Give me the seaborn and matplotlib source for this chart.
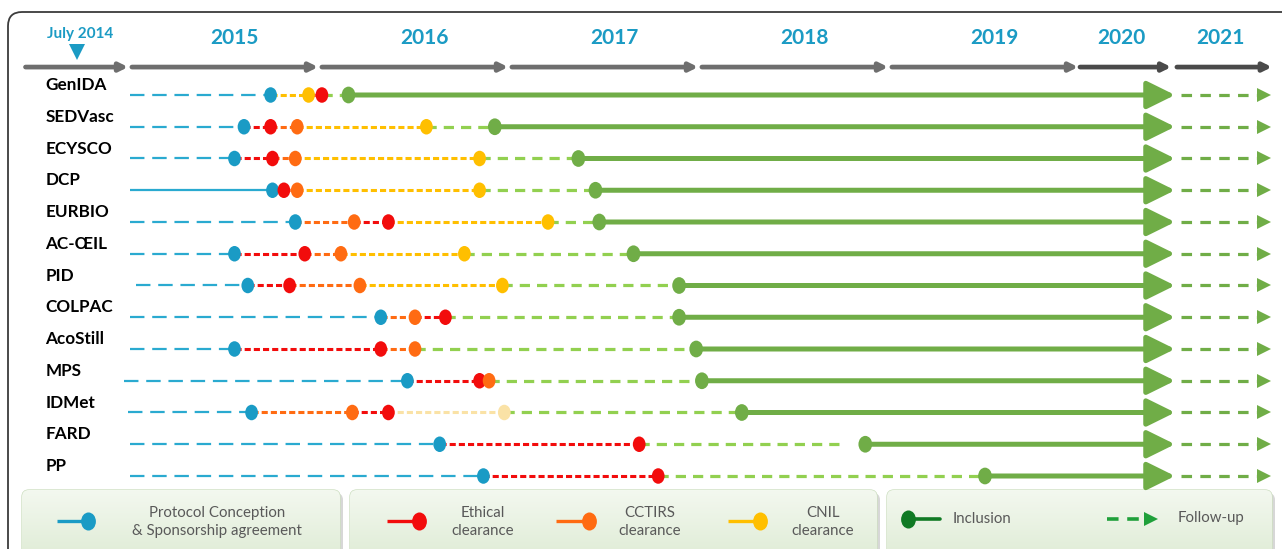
import numpy as np
import pandas as pd
import matplotlib
matplotlib.use("Agg")
import matplotlib.pyplot as plt
import seaborn as sns
from matplotlib.patches import FancyBboxPatch
from matplotlib.path import Path
from matplotlib.transforms import Affine2D
from matplotlib.colors import LinearSegmentedColormap

nan = np.nan

# studies, top to bottom
studies = ['GenIDA', 'SEDVasc', 'ECYSCO', 'DCP', 'EURBIO', 'AC-ŒIL', 'PID',
           'COLPAC', 'AcoStill', 'MPS', 'IDMet', 'FARD', 'PP']
# dates as decimal years (2020 and 2021 are drawn half width at the end)
line_start = [2015.0, 2015.0, 2015.0, 2015.0, 2015.0, 2015.0, 2015.03,
              2015.0, 2015.0, 2014.97, 2014.99, 2015.0, 2015.0]
protocol = [2015.74, 2015.60, 2015.55, 2015.75, 2015.87, 2015.55, 2015.62,
            2016.32, 2015.55, 2016.46, 2015.64, 2016.63, 2016.86]
ethics = [2016.01, 2015.74, 2015.75, 2015.81, 2016.36, 2015.92, 2015.84,
          2016.66, 2016.32, 2016.84, 2016.36, 2017.68, 2017.78]
cctirs = [nan, 2015.88, 2015.87, 2015.88, 2016.18, 2016.11, 2016.21,
          2016.50, 2016.50, 2016.89, 2016.17, nan, nan]
cnil = [2015.94, 2016.56, 2016.84, 2016.84, 2017.20, 2016.76, 2016.96,
        nan, nan, nan, 2016.97, nan, nan]
inclusion = [2016.15, 2016.92, 2017.36, 2017.45, 2017.47, 2017.65, 2017.89,
             2017.89, 2017.98, 2018.01, 2018.22, 2018.87, 2019.50]
wait_end = [nan, nan, nan, nan, nan, nan, nan, nan, nan, nan, nan, 2018.76, nan]
protocol_solid = ['DCP']
cnil_pending = ['IDMet']
inclusion_end = 2020.5
followup_end = 2021.0

periods = ['July 2014', '2015', '2016', '2017', '2018', '2019', '2020', '2021']
period_start = [2014.45, 2015.01, 2016.01, 2017.01, 2018.01, 2019.01, 2020.0, 2020.51]
period_end = [2014.99, 2015.99, 2016.99, 2017.99, 2018.99, 2019.99, 2020.48, 2021.01]

dot_cols = {'protocol': '#1a9bc5', 'ethics': '#f20c0c', 'cctirs': '#ff6b12',
            'cnil': '#ffbf00', 'cnil_pending': '#fae2a6', 'inclusion': '#70ad47'}
line_cols = {'protocol': '#2aaad0', 'ethics': '#f20c0c', 'cctirs': '#ff6b12',
             'cnil': '#ffbf00', 'cnil_pending': '#fae2a6', 'inclusion': '#92d050'}
green = '#70ad47'
blue_txt = '#1b9bc4'
grey_txt = '#595959'

sns.set_theme(style='white')
plt.rcParams['font.family'] = ['Lato', 'DejaVu Sans']

# long table of events
rows = []
for i, s in enumerate(studies):
    for stage, vals in [('protocol', protocol), ('ethics', ethics), ('cctirs', cctirs),
                        ('cnil', cnil), ('inclusion', inclusion)]:
        if not np.isnan(vals[i]):
            st = stage
            if stage == 'cnil' and s in cnil_pending:
                st = 'cnil_pending'
            rows.append({'study': s, 'row': i, 'date': vals[i], 'stage': st})
events = pd.DataFrame(rows)

W, H = 1282, 549
fig = plt.figure(figsize=(W / 100, H / 100), dpi=100)
deco = fig.add_axes([0, 0, 1, 1], zorder=0)
ax = fig.add_axes([0, 0, 1, 1], zorder=1)
ax.patch.set_alpha(0)

# outer frame
deco.add_patch(FancyBboxPatch((8, 12), 1320, 600, boxstyle='round,pad=0,rounding_size=14',
                              fc='white', ec='#3c3c3c', lw=1.3))

ell = Path.unit_circle().transformed(Affine2D().scale(0.82, 1.0))

# connecting segments
for i, s in enumerate(studies):
    ev = events[events.row == i].sort_values('date')
    prev = line_start[i]
    for _, e in ev.iterrows():
        st = e.stage
        x_end = e.date
        if st == 'protocol':
            ls = '-' if s in protocol_solid else (0, (6.5, 3.5))
            lw = 1.6
        elif st == 'inclusion':
            ls = (0, (3.2, 2.2))
            lw = 2.3
            if not np.isnan(wait_end[i]):
                x_end = wait_end[i]
        else:
            ls = (0, (2.0, 1.0))
            lw = 2.2
        ax.plot([prev, x_end], [i, i], color=line_cols[st], ls=ls, lw=lw,
                solid_capstyle='butt', dash_capstyle='butt', zorder=2)
        prev = e.date
    # inclusion -> end of 2020
    ax.annotate('', xy=(inclusion_end, i), xytext=(inclusion[i], i),
                arrowprops=dict(arrowstyle='-|>,head_length=0.85,head_width=0.42',
                                mutation_scale=20, lw=3.6, color=green,
                                shrinkA=0, shrinkB=0), zorder=3)
    # follow-up
    ax.plot([inclusion_end + 0.03, followup_end - 0.06], [i, i], color=green,
            ls=(0, (3.3, 2.6)), lw=2.3, dash_capstyle='butt', zorder=2)
    ax.plot([followup_end - 0.03], [i], marker='>', ms=9.5, color=green, mew=0, zorder=3)

clear = events[events.stage != 'inclusion']
sns.scatterplot(data=clear, x='date', y='row', hue='stage', palette=dot_cols,
                marker=ell, s=125, linewidth=0, legend=False, ax=ax, zorder=5)
sns.scatterplot(data=events[events.stage == 'inclusion'], x='date', y='row', hue='stage',
                palette=dot_cols, marker=ell, s=145, linewidth=0, legend=False,
                ax=ax, zorder=5)

# study labels
for i, s in enumerate(studies):
    ax.text(2014.555, i - 0.31, s, ha='left', va='center', fontsize=12.3,
            fontweight='bold', color='black')

# header
bar_y = -0.88
for lab, a, b in zip(periods, period_start, period_end):
    col = '#4a4a4a' if lab in ('2020', '2021') else '#6e6e6e'
    ax.annotate('', xy=(b, bar_y), xytext=(a, bar_y),
                arrowprops=dict(arrowstyle='-|>,head_length=0.6,head_width=0.3',
                                mutation_scale=8, lw=3.4, color=col,
                                shrinkA=0, shrinkB=0))
    mid = (a + b) / 2
    if lab == 'July 2014':
        ax.text(mid + 0.02, -1.93, lab, ha='center', va='center', fontsize=11,
                fontweight='bold', color=blue_txt)
        ax.plot([mid], [-1.36], marker='v', ms=11, color=blue_txt, mew=0)
    else:
        shift = 0.05 if (b - a) > 0.6 else -0.02
        ax.text(mid + shift, -1.8, lab, ha='center', va='center', fontsize=15,
                fontweight='bold', color=blue_txt)

# legend boxes
cmap = LinearSegmentedColormap.from_list('lg', ['#f3f8ef', '#dcead2'])
for bx0, bx1 in [(22, 340), (350, 877), (887, 1272)]:
    deco.add_patch(FancyBboxPatch((bx0 + 3, 493), bx1 - bx0, 80,
                                  boxstyle='round,pad=0,rounding_size=7',
                                  fc='#bdbdbd', ec='none', alpha=0.6, zorder=1))
    box = FancyBboxPatch((bx0, 490), bx1 - bx0, 80, boxstyle='round,pad=0,rounding_size=7',
                         fc='#e3efdb', ec='#cddfc1', lw=1, zorder=2)
    deco.add_patch(box)
    im = deco.imshow(np.linspace(0, 1, 60)[:, None], extent=(bx0, bx1, 570, 490),
                     cmap=cmap, aspect='auto', zorder=2.5)
    im.set_clip_path(box)

legend_items = [
    (57, 88, '#1a9bc5', 'Protocol Conception\n& Sponsorship agreement', 217),
    (387, 419, '#f20c0c', 'Ethical\nclearance', 483),
    (556, 589, '#ff6b12', 'CCTIRS\nclearance', 650),
    (728, 760, '#ffbf00', 'CNIL\nclearance', 823),
]
for lx0, dx, c, txt, tx in legend_items:
    deco.plot([lx0, dx], [521, 521], color=c, lw=2.4, zorder=3, solid_capstyle='butt')
    deco.plot([dx], [521], marker=ell, ms=13, color=c, mew=0, zorder=4)
    deco.text(tx, 522, txt, ha='center', va='center', fontsize=10.8, color=grey_txt,
              linespacing=1.45, zorder=4)
deco.plot([908, 940], [519, 519], color='#107a24', lw=2.6, zorder=3)
deco.plot([908], [519], marker=ell, ms=13, color='#107a24', mew=0, zorder=4)
deco.text(953, 519, 'Inclusion', ha='left', va='center', fontsize=10.8, color=grey_txt, zorder=4)
deco.plot([1107, 1142], [519, 519], color='#1fa03a', lw=2.6, ls=(0, (3.2, 2.4)), zorder=3)
deco.plot([1151], [519], marker='>', ms=10, color='#1fa03a', mew=0, zorder=4)
deco.text(1178, 518, 'Follow-up', ha='left', va='center', fontsize=10.8, color=grey_txt, zorder=4)

deco.set_xlim(0, W)
deco.set_ylim(H, 0)
deco.axis('off')
ax.set_xlim(2015 - 130 / 190, 2015 + (W - 130) / 190)
ax.set_ylim((H - 95) / 31.75, -95 / 31.75)
ax.axis('off')

fig.savefig('out.png', dpi=100)
